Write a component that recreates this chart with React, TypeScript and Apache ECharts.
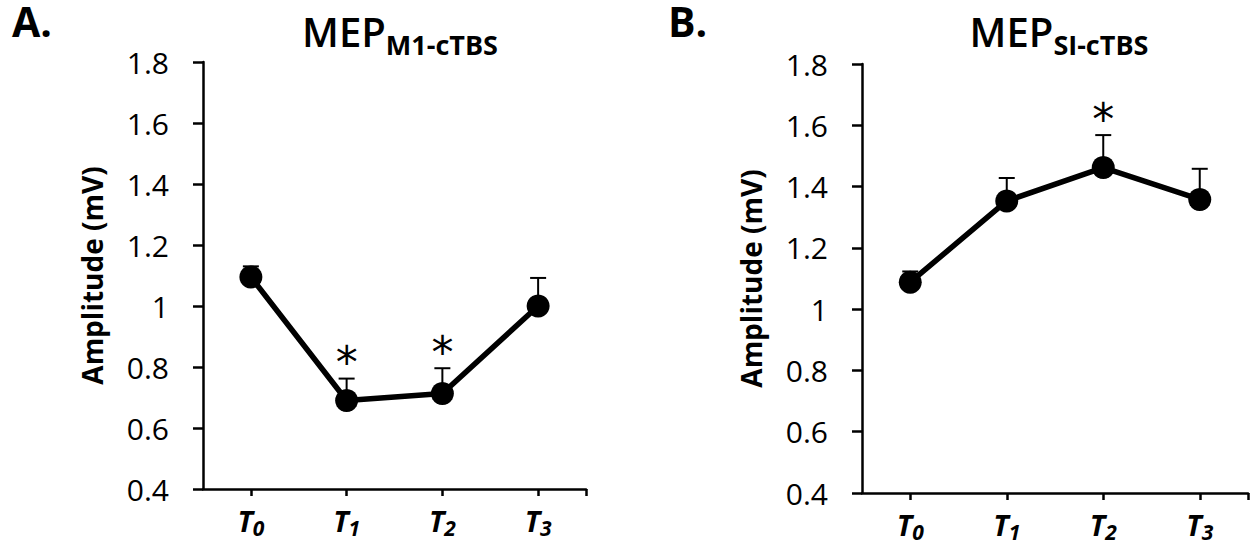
import React, { useEffect, useRef } from "react";
import * as echarts from "echarts";

const categories = ["0", "1", "2", "3"];
const yTickMin = 0.4;
const yTickMax = 1.8;
const yTickStep = 0.2;

const panelLabels = ["A.", "B."];
const titleMain = "MEP";
const titleSubs = ["M1-cTBS", "SI-cTBS"];
const yName = "Amplitude (mV)";

const meanA = [1.095, 0.69, 0.713, 1.0];
const semA = [0.035, 0.072, 0.083, 0.092];
const sigA = [0, 1, 1, 0];

const meanB = [1.088, 1.353, 1.462, 1.358];
const semB = [0.035, 0.075, 0.106, 0.1];
const sigB = [0, 0, 1, 0];

const FONT = "'Open Sans', sans-serif";

export default function App() {
  const ref = useRef<HTMLDivElement>(null);
  useEffect(() => {
    if (!ref.current) return;
    const chart = echarts.init(ref.current, null, { renderer: "svg" });

    const grids = [
      { left: 203, top: 62, width: 383, height: 427 },
      { left: 862, top: 64, width: 386, height: 429 },
    ];

    const xAxes = grids.map((_, i) => ({
      type: "value",
      gridIndex: i,
      min: -0.5,
      max: 3.5,
      splitLine: { show: false },
      axisLine: { show: true, onZero: false, lineStyle: { color: "#000", width: 2.5 } },
      axisTick: {
        show: true,
        customValues: [0, 1, 2, 3, 3.5],
        length: 7,
        lineStyle: { color: "#000", width: 2.5 },
      },
      axisLabel: {
        show: true,
        customValues: [0, 1, 2, 3],
        margin: 17,
        formatter: (v: number) => `{t|T}{s|${categories[Math.round(v)]}}`,
        rich: {
          t: { fontFamily: FONT, fontSize: 29, fontWeight: "bold", fontStyle: "italic", color: "#000", lineHeight: 22, verticalAlign: "top" },
          s: { fontFamily: FONT, fontSize: 21, fontWeight: "bold", fontStyle: "italic", color: "#000", padding: [11, 0, 0, 0], lineHeight: 22, verticalAlign: "top" },
        },
      },
    }));

    const yAxes = grids.map((_, i) => ({
      type: "value",
      gridIndex: i,
      min: yTickMin,
      max: yTickMax,
      interval: yTickStep,
      name: yName,
      nameLocation: "middle",
      nameRotate: 90,
      nameGap: 97,
      nameTextStyle: { fontFamily: FONT, fontSize: 28, fontWeight: "bold", color: "#000" },
      splitLine: { show: false },
      axisLine: { show: true, onZero: false, lineStyle: { color: "#000", width: 2.5 } },
      axisTick: { show: true, length: 10, lineStyle: { color: "#000", width: 2.5 } },
      axisLabel: {
        margin: 34,
        fontFamily: FONT,
        fontSize: 30,
        color: "#000",
        formatter: (v: number) => String(Number(v.toFixed(1))),
      },
    }));

    const panels = [
      { mean: meanA, sem: semA, sig: sigA },
      { mean: meanB, sem: semB, sig: sigB },
    ];

    const series: any[] = [];
    panels.forEach((p, i) => {
      series.push({
        type: "custom",
        xAxisIndex: i,
        yAxisIndex: i,
        clip: false,
        z: 1,
        data: p.mean.map((m, k) => [k, m, p.sem[k], p.sig[k]]),
        renderItem: (params: any, api: any) => {
          const x = api.value(0);
          const m = api.value(1);
          const e = api.value(2);
          const s = api.value(3);
          const p0 = api.coord([x, m]);
          const p1 = api.coord([x, m + e]);
          const children: any[] = [
            { type: "line", shape: { x1: p0[0], y1: p0[1], x2: p1[0], y2: p1[1] }, style: { stroke: "#000", lineWidth: 2 } },
            { type: "line", shape: { x1: p1[0] - 8, y1: p1[1], x2: p1[0] + 8, y2: p1[1] }, style: { stroke: "#000", lineWidth: 2 } },
          ];
          if (s) {
            children.push({
              type: "text",
              style: {
                text: "*",
                x: p1[0],
                y: p1[1] + 6,
                align: "center",
                verticalAlign: "bottom",
                fontFamily: "'DejaVu Sans', sans-serif",
                fontSize: 44,
                fill: "#000",
              },
            });
          }
          return { type: "group", children };
        },
      });
      series.push({
        type: "line",
        xAxisIndex: i,
        yAxisIndex: i,
        z: 3,
        data: p.mean.map((m, k) => [k, m]),
        symbol: "circle",
        symbolSize: 23,
        itemStyle: { color: "#000" },
        lineStyle: { color: "#000", width: 5.5 },
      });
    });

    const titleCenters = [400, 1059];
    const labelX = [12, 668];

    const graphic: any[] = [];
    panelLabels.forEach((lab, i) => {
      graphic.push({
        type: "text",
        x: labelX[i],
        y: 21,
        style: { text: lab, verticalAlign: "middle", lineHeight: 34, fontFamily: FONT, fontSize: 41, fontWeight: "bold", fill: "#000" },
      });
      graphic.push({
        type: "text",
        x: titleCenters[i],
        y: 6,
        style: {
          text: `{a|${titleMain}}{b|${titleSubs[i]}}`,
          align: "center",
          verticalAlign: "top",
          rich: {
            a: { fontFamily: FONT, fontSize: 40, fontWeight: 600, color: "#000", lineHeight: 50 },
            b: { fontFamily: FONT, fontSize: 27, fontWeight: "bold", color: "#000", padding: [26, 0, 0, 0], lineHeight: 50 },
          },
        },
      });
    });

    chart.setOption({
      animation: false,
      backgroundColor: "#fff",
      grid: grids,
      xAxis: xAxes,
      yAxis: yAxes,
      series,
      graphic,
    });
    return () => chart.dispose();
  }, []);
  return <div ref={ref} style={{ position: "fixed", left: 0, top: 0, width: 1257, height: 543 }} />;
}
